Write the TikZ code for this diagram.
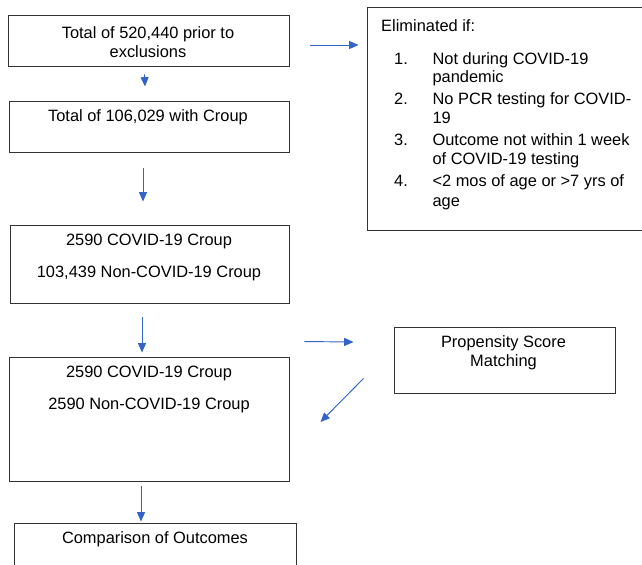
\documentclass[tikz,border=0pt]{standalone}
\usepackage{fontspec}
\setmainfont{Liberation Sans}
\usetikzlibrary{arrows.meta,positioning}
\definecolor{flowblue}{RGB}{50,100,200}
\tikzset{
  box/.style={draw=black!80, line width=0.8pt, inner sep=0pt},
  txt/.style={font=\fontsize{14pt}{16.2pt}\selectfont, align=center, inner sep=0pt},
  flow/.style={draw=flowblue, line width=0.8pt, >={Triangle[length=8pt,width=6.8pt]}, ->},
}

\begin{document}
\begin{tikzpicture}[x=0.3mm,y=-0.3mm]
		\useasboundingbox (0,0) rectangle (642,564);
		\clip (0,0) rectangle (642,564);

		% boxes
		\draw (148.5,40.5) node [box, minimum width=84.3mm, minimum height=15.3mm] (total) {};
		\draw (149,126.5) node [box, minimum width=84mm, minimum height=15.3mm] (croup) {};
		\draw (149.5,264) node [box, minimum width=83.7mm, minimum height=23.4mm] (split) {};
		\draw (149,419) node [box, minimum width=84mm, minimum height=37.2mm] (matched) {};
		\draw (155,561.5) node [box, minimum width=84.6mm, minimum height=23.1mm] (outcomes) {};
		\draw (513.5,118.5) node [box, minimum width=87.9mm, minimum height=66.9mm] (elim) {};
		\draw (504.5,360) node [box, minimum width=66.3mm, minimum height=19.8mm] (psm) {};

		% texts
		\draw (148,42) node [txt] (totaltxt) {Total of 520,440 prior to\\exclusions};
		\draw (148,117) node [txt] (crouptxt) {Total of 106,029 with Croup};
		\draw (149,257) node [txt] (splittxt) {2590 COVID-19 Croup\\[3.9mm]103,439 Non-COVID-19 Croup};
		\draw (149,389) node [txt] (matchedtxt) {2590 COVID-19 Croup\\[3.9mm]2590 Non-COVID-19 Croup};
		\draw (155,539) node [txt] (outcomestxt) {Comparison of Outcomes};
		\draw (503.5,352.5) node [txt] (psmtxt) {Propensity Score\\Matching};
		\draw (381,31) node [txt, anchor=base west] (elimtitle) {Eliminated if:};
		\draw (394,64) node [txt, anchor=base west] (elimlist) {%
			\begin{tabular}[t]{@{}r@{\hspace{7.4mm}}l@{}}
				1. & Not during COVID-19\\
				   & pandemic\\[0.9mm]
				2. & No PCR testing for COVID-\\
				   & 19\\[0.9mm]
				3. & Outcome not within 1 week\\
				   & of COVID-19 testing\\[0.9mm]
				4. & <2 mos of age or >7 yrs of\\[0.3mm]
				   & age
			\end{tabular}};

		% arrows
		\draw[flow] ([shift={(-4,8)}]total.south) -- ([shift={(-4,-14)}]croup.north);
		\draw[flow] ([shift={(-6,16)}]croup.south) -- ([shift={(-6.5,-23)}]split.north);
		\draw[flow] ([shift={(21,4.5)}]total.east) -- ([shift={(-8,-73.5)}]elim.west);
		\draw[flow] ([shift={(-7.5,14)}]split.south) -- ([shift={(-7,-4)}]matched.north);
		\draw[flow] ([shift={(15,-15)}]matched.north east) -- ([shift={(-40,-18)}]psm.west);
		\draw[flow] ([shift={(-30,-15)}]psm.south west) -- ([shift={(31,3)}]matched.east);
		\draw[flow] ([shift={(-8,5)}]matched.south) -- ([shift={(-14,-1)}]outcomes.north);
	\end{tikzpicture}
\end{document}
